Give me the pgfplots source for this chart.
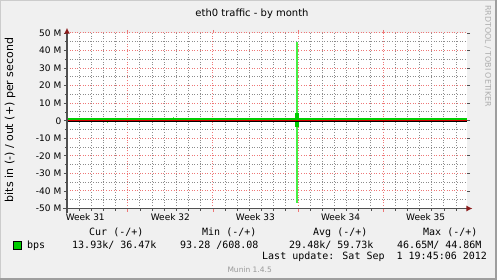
\documentclass[border=0pt]{standalone}
\usepackage{fontspec}
\setmainfont{DejaVu Sans}
\newfontfamily\mono{DejaVu Sans Mono}
\usepackage{pgfplots}
\pgfplotsset{compat=1.18}
\usetikzlibrary{arrows.meta}
\definecolor{bg}{HTML}{F0F0F0}
\definecolor{majgrid}{HTML}{EE7777}
\definecolor{mingrid}{HTML}{8C8C8C}
\definecolor{series}{HTML}{00CC00}
\definecolor{spike}{HTML}{44EE44}
\definecolor{axred}{HTML}{8B1A1A}
\definecolor{axgray}{HTML}{505050}
\begin{document}
\begin{tikzpicture}
\begin{scope}[x=1pt,y=1pt]
\fill[bg] (0,0) rectangle (497,-280);
\draw[color=white!80!black, line width=1pt] (0.5,-279) -- (0.5,-0.5) -- (496,-0.5);
\draw[color=white!62!black, line width=2.5pt] (495.75,0) -- (495.75,-278.75) -- (0,-278.75);
\fill[white] (67,-208.5) rectangle (467,-33);
\end{scope}
\begin{axis}[at={(67pt,-208.5pt)}, anchor=south west, scale only axis,
  width=400pt, height=175.5pt,
  xmin=2, xmax=34.9, ymin=-50, ymax=50,
  clip=false,
  axis line style={draw=none},
  xtick={7,14,21,28}, xticklabels={},
  ytick={-50,-40,...,50},
  yticklabels={-50 M,-40 M,-30 M,-20 M,-10 M,0,10 M,20 M,30 M,40 M,50 M},
  xmajorgrids=true, ymajorgrids=true,
  major grid style={majgrid, dash pattern=on 1pt off 1.6pt, line width=1pt},
  tick align=outside,
  major tick length=3pt,
  x tick style={majgrid, line width=0.8pt},
  y tick style={axgray, line width=0.8pt},
  tick label style={font=\fontsize{9}{10}\selectfont, text=black},
  yticklabel style={anchor=east, inner sep=0pt, xshift=-2.5pt},
]
% minor (daily / 5 M) grid lines
\pgfplotsinvokeforeach{3,4,5,6,8,9,10,11,12,13,15,16,17,18,19,20,22,23,24,25,26,27,29,30,31,32,33,34}{
  \draw[mingrid, dash pattern=on 1pt off 1.6pt, line width=1pt] (axis cs:#1,-50) -- (axis cs:#1,50);
  \draw[axgray, line width=0.8pt] (axis cs:#1,-50) -- ++(0pt,-2pt);
}
\pgfplotsinvokeforeach{-45,-35,-25,-15,-5,5,15,25,35,45}{
  \draw[mingrid, dash pattern=on 1pt off 1.6pt, line width=1pt] (axis cs:2,#1) -- (axis cs:34.9,#1);
  \draw[axgray, line width=0.8pt] (axis cs:2,#1) -- ++(-2pt,0pt);
}
% max spike (light green)
\addplot[spike, line width=1.4pt] coordinates {(20.92,-46.65) (20.92,44.86)};
% small light bumps
\addplot[spike, line width=1pt] coordinates {(5.3,0) (5.3,-1.2)};
\addplot[spike, line width=1pt] coordinates {(10.72,0) (10.72,2.0)};
\addplot[spike, line width=1pt] coordinates {(4.1,0) (4.1,1.6)};
% average bar (dark green)
\addplot[series, line width=3.3pt] coordinates {(20.92,-3.7) (20.92,4.6)};
\addplot[series, line width=2.5pt] coordinates {(9.4,0) (9.4,1.8)};
% out traffic (green), in traffic line (red), zero line (black)
\addplot[series, line width=1.6pt] coordinates {(2,0.85) (34.9,0.85)};
\addplot[red!85!black, line width=1.5pt] coordinates {(2,0.1) (34.9,0.1)};
\addplot[black, line width=1.2pt] coordinates {(2,-0.45) (34.9,-0.45)};
% axis lines with arrows
\draw[axgray, line width=1.2pt, -{Latex[length=6pt,width=6pt,color=axred]}] (axis cs:2,-52.5) -- (axis cs:2,53);
\draw[axgray, line width=1.2pt, -{Latex[length=6pt,width=6pt,color=axred]}] (axis cs:1.7,-50) -- (axis cs:35.35,-50);
% week labels
\pgfplotsinvokeforeach{31,32,33,34,35}{
  \node[anchor=north, inner sep=0pt, font=\fontsize{9}{10}\selectfont, yshift=-4.5pt] at (axis cs:{(#1-31)*7+3.5},-50) {Week #1};
}
\end{axis}
\begin{scope}[x=1pt,y=1pt]
\node[anchor=base, font=\fontsize{10}{12}\selectfont] at (252,-17) {eth0 traffic - by month};
\node[rotate=90, anchor=center, font=\fontsize{11}{12}\selectfont] at (10,-120) {bits in (-) / out (+) per second};
\node[rotate=-90, anchor=west, inner sep=0pt, text=white!68!black, font=\fontsize{7.9}{9}\selectfont] at (488,-5) {RRDTOOL / TOBI OETIKER};
% legend
\begin{scope}[every node/.style={inner sep=0pt, font=\mono\fontsize{10}{12}\selectfont}]
\node[anchor=base west] at (89,-235) {Cur (-/+)};
\node[anchor=base west] at (202,-235) {Min (-/+)};
\node[anchor=base west] at (313,-235) {Avg (-/+)};
\node[anchor=base west] at (423,-235) {Max (-/+)};
\node[anchor=base west] at (27,-248) {bps};
\node[anchor=base west] at (72,-248) {13.93k/ 36.47k};
\node[anchor=base west] at (180,-248) {93.28 /608.08};
\node[anchor=base west] at (289,-248) {29.48k/ 59.73k};
\node[anchor=base west] at (397,-248) {46.65M/ 44.86M};
\node[anchor=base west] at (262,-259.5) {Last update: Sat Sep~~1 19:45:06 2012};
\end{scope}
\filldraw[fill=series, draw=black, line width=0.6pt] (13.5,-241.7) rectangle (21,-249);
\node[anchor=base east, inner sep=0pt, text=white!60!black, font=\fontsize{7.5}{9}\selectfont] at (272,-272) {Munin 1.4.5};
\pgfresetboundingbox
\useasboundingbox (0,0) rectangle (497,-280);
\end{scope}
\end{tikzpicture}
\end{document}
